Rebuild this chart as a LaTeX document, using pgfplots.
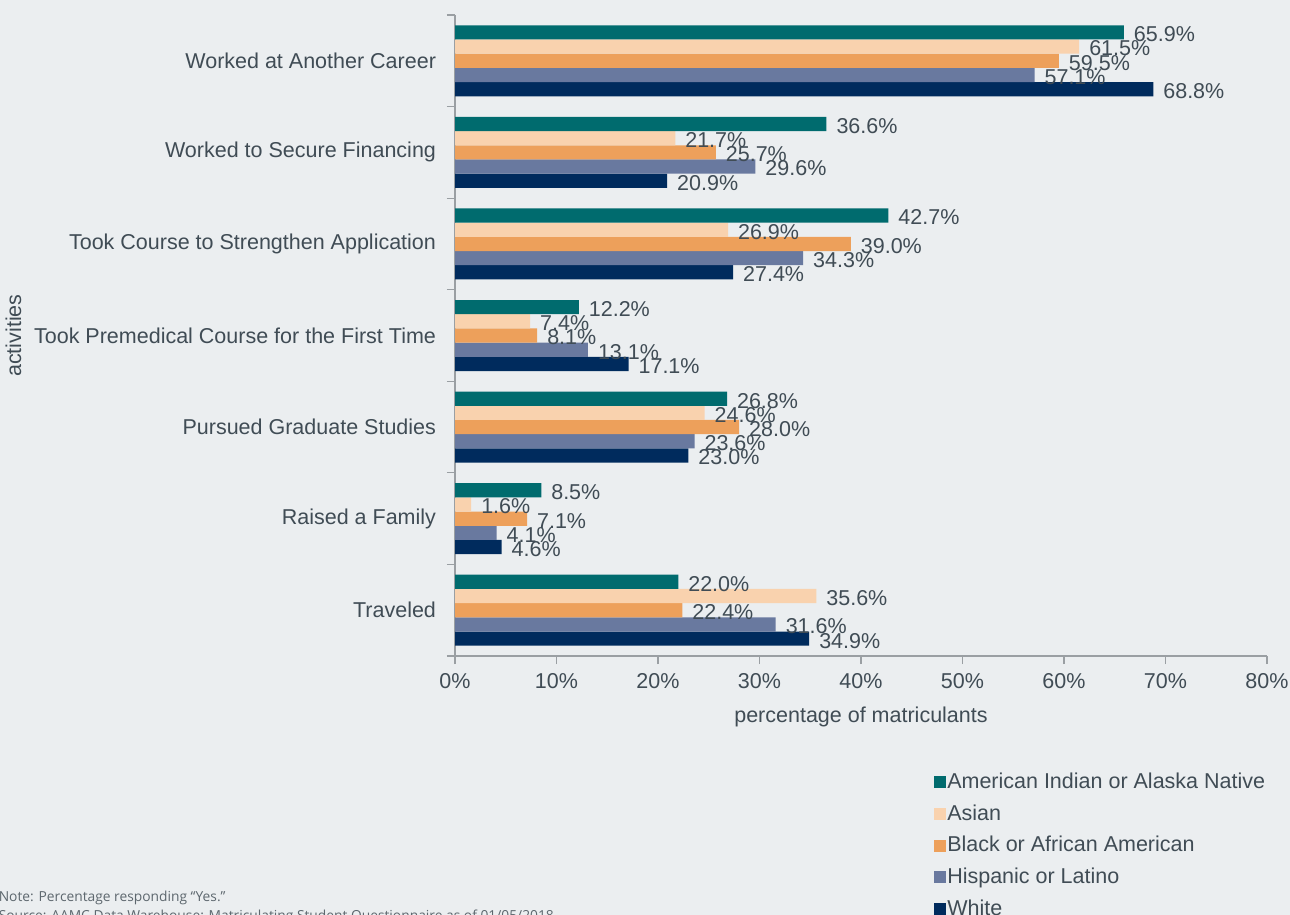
\documentclass[border=0pt]{standalone}
\usepackage{pgfplots}
\pgfplotsset{compat=1.18}
\usepackage{fontspec}
\setmainfont{Liberation Sans}
\newfontfamily\notefont{Open Sans}
\definecolor{bg}{HTML}{EBEEF0}
\definecolor{txt}{HTML}{404C55}
\definecolor{axg}{HTML}{9A9FA3}
\definecolor{c1}{HTML}{006B6E}
\definecolor{c2}{HTML}{F9D2AE}
\definecolor{c3}{HTML}{EDA05B}
\definecolor{c4}{HTML}{69799F}
\definecolor{c5}{HTML}{002B5D}
\begin{document}
\begin{tikzpicture}
\fill[bg] (0,0) rectangle (645bp,457.5bp);
\begin{axis}[
  at={(227.5bp,129.5bp)}, anchor=south west,
  width=406bp, height=320.5bp, scale only axis,
  xbar, bar width=7.1bp, xbar=0pt,
  /pgf/number format/assume math mode=true,
  font=\fontsize{10.75bp}{12.9bp}\selectfont,
  xmin=0, xmax=80, xtick={0,10,...,80},
  xticklabel={\pgfmathprintnumber{\tick}\%},
  ymin=-0.5, ymax=6.5, y dir=reverse,
  ytick={-0.5,0.5,...,6.5}, yticklabels={},
  extra y ticks={0,1,2,3,4,5,6},
  extra y tick labels={Worked at Another Career,Worked to Secure Financing,Took Course to Strengthen Application,Took Premedical Course for the First Time,Pursued Graduate Studies,Raised a Family,Traveled},
  extra y tick style={major tick length=0pt, tick style={draw=none}},
  yticklabel style={xshift=-6bp},
  axis x line*=bottom, axis y line*=left,
  axis line style={draw=axg, line width=0.6bp, -},
  tick style={draw=axg, line width=0.6bp},
  tick align=outside, major tick length=4bp,
  tick label style={text=txt, font=\fontsize{10.75bp}{12.9bp}\selectfont},
  xticklabel style={yshift=-1bp},
  xlabel={percentage of matriculants}, ylabel={activities},
  label style={text=txt, font=\fontsize{10.75bp}{12.9bp}\selectfont},
  ylabel style={yshift=-4.5bp},
  xlabel style={yshift=-2.5bp},
  point meta=x,
  nodes near coords={\pgfmathprintnumber[fixed,fixed zerofill,precision=1]{\pgfplotspointmeta}\%},
  every node near coord/.append style={text=txt, font=\fontsize{10.75bp}{12.9bp}\selectfont, anchor=west, xshift=1.5bp, yshift=-1bp},
  legend style={at={(axis description cs:0.589,-0.179)}, anchor=north west, draw=none, fill=none, inner sep=0pt,
    font=\fontsize{10.75bp}{12.9bp}\selectfont, text=txt, row sep=5bp, nodes={inner sep=0.8bp}},
  legend cell align=left, reverse legend,
]
\addplot[fill=c5, draw=none, legend image code/.code={\fill[c5] (0bp,-3bp) rectangle (6bp,3bp);}] coordinates {(68.8,0) (20.9,1) (27.4,2) (17.1,3) (23.0,4) (4.6,5) (34.9,6)};
\addplot[fill=c4, draw=none, legend image code/.code={\fill[c4] (0bp,-3bp) rectangle (6bp,3bp);}] coordinates {(57.1,0) (29.6,1) (34.3,2) (13.1,3) (23.6,4) (4.1,5) (31.6,6)};
\addplot[fill=c3, draw=none, legend image code/.code={\fill[c3] (0bp,-3bp) rectangle (6bp,3bp);}] coordinates {(59.5,0) (25.7,1) (39.0,2) (8.1,3) (28.0,4) (7.1,5) (22.4,6)};
\addplot[fill=c2, draw=none, legend image code/.code={\fill[c2] (0bp,-3bp) rectangle (6bp,3bp);}] coordinates {(61.5,0) (21.7,1) (26.9,2) (7.4,3) (24.6,4) (1.6,5) (35.6,6)};
\addplot[fill=c1, draw=none, legend image code/.code={\fill[c1] (0bp,-3bp) rectangle (6bp,3bp);}] coordinates {(65.9,0) (36.6,1) (42.7,2) (12.2,3) (26.8,4) (8.5,5) (22.0,6)};
\legend{White,Hispanic or Latino,Black or African American,Asian,American Indian or Alaska Native}
\end{axis}
\node[anchor=base west, inner sep=0pt, text=txt!85, font=\notefont\fontsize{6.9bp}{8bp}\selectfont] at (-0.8bp,6.6bp) {Note: Percentage responding “Yes.”};
\node[anchor=base west, inner sep=0pt, text=txt!85, font=\notefont\fontsize{6.9bp}{8bp}\selectfont] at (-0.8bp,-2.8bp) {Source: AAMC Data Warehouse: Matriculating Student Questionnaire as of 01/05/2018};
\pgfresetboundingbox
\path[use as bounding box] (0,0) rectangle (645bp,457.5bp);
\end{tikzpicture}
\end{document}
